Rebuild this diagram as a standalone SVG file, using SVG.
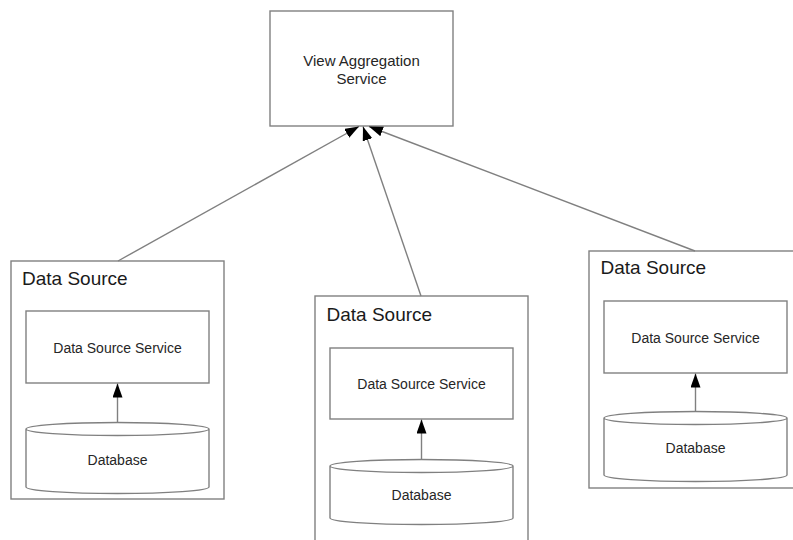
<svg xmlns="http://www.w3.org/2000/svg" width="793" height="540" viewBox="0 0 793 540">
<style>
.box{fill:#fff;stroke:#808080;stroke-width:1.4}
.cyl{fill:#fff;stroke:#808080;stroke-width:1.4}
.edge{stroke:#808080;stroke-width:1.4;fill:none}
.t{font-family:"Liberation Sans",Arial,sans-serif;fill:#262626;text-anchor:middle}
.s{font-size:14px}
.v{font-size:15px}
.h{font-family:"Liberation Sans",Arial,sans-serif;fill:#1a1a1a;font-size:19px}
</style>
<defs>
<marker id="arr" markerUnits="userSpaceOnUse" markerWidth="15" markerHeight="11" refX="14" refY="5" orient="auto">
<path d="M0,0 L14,5 L0,10 z" fill="#000"/>
</marker>
</defs>
<rect width="793" height="540" fill="#fff"/>

<g id="view-aggregation-service">
<rect class="box" x="270" y="11" width="183" height="115"/>
<text class="t v" x="361.5" y="66">View Aggregation</text>
<text class="t v" x="361.5" y="84">Service</text>
</g>

<g id="data-source-1">
<rect class="box" x="11" y="261" width="213" height="238"/>
<text class="h" x="22" y="285">Data Source</text>
</g>
<g id="data-source-service-1">
<rect class="box" x="26" y="311" width="183" height="72"/>
<text class="t s" x="117.5" y="353">Data Source Service</text>
</g>
<g id="database-1">
<path class="cyl" d="M26,429 L26,487 A91.5,6.5 0 0 0 209,487 L209,429 A91.5,6.5 0 0 0 26,429 A91.5,6.5 0 0 0 209,429"/>
<text class="t s" x="117.5" y="465">Database</text>
</g>

<g id="data-source-2">
<rect class="box" x="315" y="296" width="213" height="260"/>
<text class="h" x="326.5" y="321">Data Source</text>
</g>
<g id="data-source-service-2">
<rect class="box" x="330" y="348" width="183" height="71"/>
<text class="t s" x="421.5" y="389">Data Source Service</text>
</g>
<g id="database-2">
<path class="cyl" d="M330,466 L330,518 A91.5,6.5 0 0 0 513,518 L513,466 A91.5,6.5 0 0 0 330,466 A91.5,6.5 0 0 0 513,466"/>
<text class="t s" x="421.5" y="500">Database</text>
</g>

<g id="data-source-3">
<rect class="box" x="589" y="251" width="213" height="237"/>
<text class="h" x="600.5" y="274">Data Source</text>
</g>
<g id="data-source-service-3">
<rect class="box" x="604" y="301" width="183" height="72"/>
<text class="t s" x="695.5" y="343">Data Source Service</text>
</g>
<g id="database-3">
<path class="cyl" d="M604,418 L604,475 A91.5,6.5 0 0 0 787,475 L787,418 A91.5,6.5 0 0 0 604,418 A91.5,6.5 0 0 0 787,418"/>
<text class="t s" x="695.5" y="453">Database</text>
</g>

<g id="connectors">
<line class="edge" x1="118" y1="261" x2="359" y2="126.5" marker-end="url(#arr)"/>
<line class="edge" x1="421" y1="296" x2="363" y2="126.5" marker-end="url(#arr)"/>
<line class="edge" x1="695" y1="251" x2="369" y2="126.5" marker-end="url(#arr)"/>
<line class="edge" x1="117.5" y1="422.5" x2="117.5" y2="383.5" marker-end="url(#arr)"/>
<line class="edge" x1="421.5" y1="459.5" x2="421.5" y2="419.5" marker-end="url(#arr)"/>
<line class="edge" x1="695.5" y1="411.5" x2="695.5" y2="373.5" marker-end="url(#arr)"/>
</g>
</svg>
